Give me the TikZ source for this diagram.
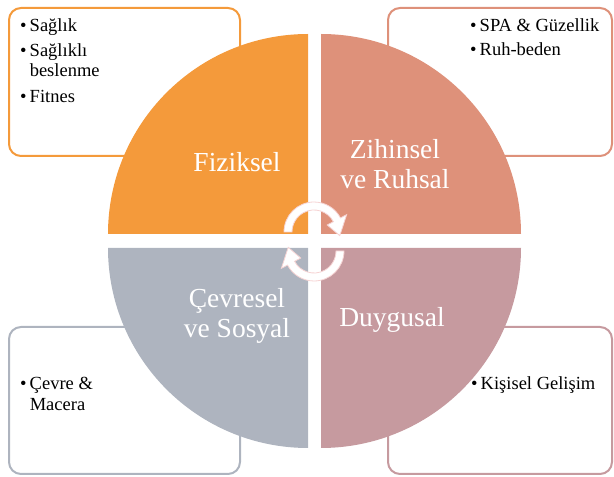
\documentclass[tikz,border=0pt]{standalone}
\usepackage{fontspec}
\setmainfont{Liberation Serif}
\definecolor{fizcol}{HTML}{F49A3B}
\definecolor{zihcol}{HTML}{DE917A}
\definecolor{cevcol}{HTML}{AEB4BF}
\definecolor{duycol}{HTML}{C69A9F}
\definecolor{arrcol}{HTML}{F6D3D3}

\begin{document}
\begin{tikzpicture}[x=1pt,y=1pt,
  box/.style={draw=#1,line width=2pt,rounded corners=12pt,inner sep=0pt,minimum height=148pt},
  lbl/.style={text=white,align=center,font=\fontsize{27.5}{30}\selectfont},
  item/.style={anchor=base west,inner sep=0pt,font=\fontsize{18.5}{20.5}\selectfont}]
  \useasboundingbox (0,0) rectangle (614,477);
  \node[box=fizcol,minimum width=231pt] (b1) at (124.5,395) {};
  \node[box=zihcol,minimum width=224pt] (b2) at (500,395) {};
  \node[box=cevcol,minimum width=231pt,minimum height=147pt] (b3) at (124.5,76.5) {};
  \node[box=duycol,minimum width=224pt,minimum height=147pt] (b4) at (500,76.5) {};
  \fill[fizcol] (308,243) -- ++(-200,0) arc (180:90:200) -- cycle;
  \fill[zihcol] (321,243) -- ++(0,200) arc (90:0:200) -- cycle;
  \fill[cevcol] (308,229) -- ++(-200,0) arc (180:270:200) -- cycle;
  \fill[duycol] (321,229) -- ++(200,0) arc (0:-90:200) -- cycle;
  \node[item] (t1) at (20,445) {\begin{tabular}[t]{@{}l@{\,}l@{}}\textbullet&Sağlık\\[4pt]\textbullet&Sağlıklı\\&beslenme\\[5pt]\textbullet&Fitnes\end{tabular}};
  \node[item] (t2) at (470,445) {\begin{tabular}[t]{@{}l@{\,}l@{}}\textbullet&SPA \& Güzellik\\[3pt]\textbullet&Ruh-beden\end{tabular}};
  \node[item] (t3) at (20,87) {\begin{tabular}[t]{@{}l@{\,}l@{}}\textbullet&Çevre \&\\&Macera\end{tabular}};
  \node[item] (t4) at (471,87) {\begin{tabular}[t]{@{}l@{\,}l@{}}\textbullet&Kişisel Gelişim\end{tabular}};
  \node[lbl,anchor=base] (fiz) at (237,305) {Fiziksel};
  \node[lbl] (zih) at (395,313) {Zihinsel\\ve Ruhsal};
  \node[lbl] (cev) at (237,161) {Çevresel\\ve Sosyal};
  \node[lbl,anchor=base] (duy) at (392,150) {Duygusal};
  \begin{scope}[shift={(314,245)}]
    \filldraw[fill=white,draw=arrcol,line width=0.8pt] (180:30) arc (180:28:30) -- (28:37) -- (-8:26) -- (28:15) -- (28:22) arc (28:180:22) -- cycle;
  \end{scope}
  \begin{scope}[shift={(314,226)}]
    \filldraw[fill=white,draw=arrcol,line width=0.8pt] (0:30) arc (0:-152:30) -- (-152:37) -- (-188:26) -- (-152:15) -- (-152:22) arc (-152:0:22) -- cycle;
  \end{scope}
\end{tikzpicture}
\end{document}
